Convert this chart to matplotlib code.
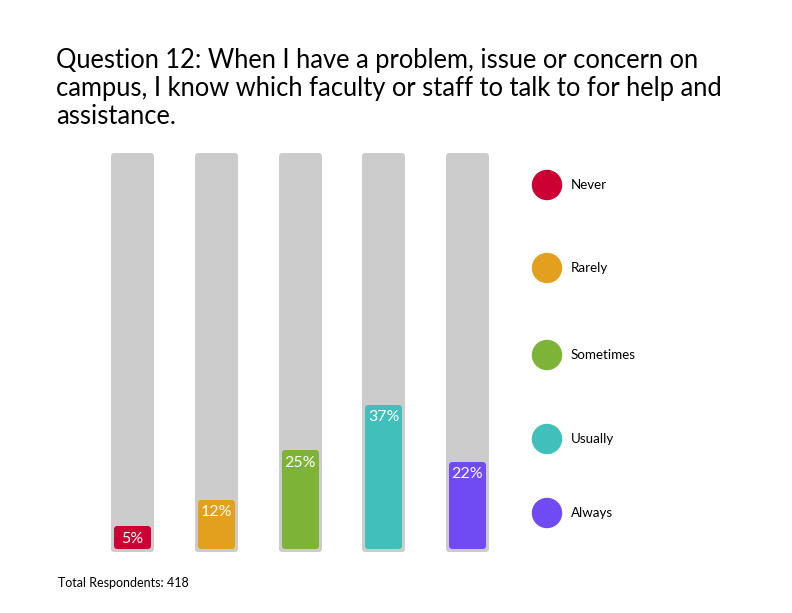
import matplotlib
matplotlib.use("Agg")
import matplotlib.pyplot as plt

# data
categories = ["Never", "Rarely", "Sometimes", "Usually", "Always"]
percents = [5, 12, 25, 37, 22]
colors = ["#CC0033", "#E3A01E", "#7DB336", "#40BFBB", "#704AF2"]
title = ("Question 12: When I have a problem, issue or concern on\n"
         "campus, I know which faculty or staff to talk to for help and\n"
         "assistance.")
footer = "Total Respondents: 418"

W, H = 792, 613
fig = plt.figure(figsize=(W / 100, H / 100), dpi=100)
plt.rcParams['font.family'] = ['Lato', 'DejaVu Sans']

# bars axes, positioned in pixels
px_per_unit_x = 83.75
px_per_pct = 3.8
left_px = 132.5 - 0.5 * px_per_unit_x
right_px = left_px + 5 * px_per_unit_x
zero_px = 549          # image y of colored bar bottom
top_px, bot_px = 150, 560
ax = fig.add_axes([left_px / W, 1 - bot_px / H, (right_px - left_px) / W, (bot_px - top_px) / H])
ax.set_xlim(-0.5, 4.5)
ax.set_ylim(-(bot_px - zero_px) / px_per_pct, (zero_px - top_px) / px_per_pct)
ax.axis('off')

x = list(range(len(categories)))
edge_px = 6
pad = edge_px / 2 / px_per_pct
lw = edge_px * 72 / 100

# gray tracks
g_bot = -3 / px_per_pct
g_top = (zero_px - 153) / px_per_pct
g_w = (43 - edge_px) / px_per_unit_x
ax.bar(x, g_top - g_bot - 2 * pad, bottom=g_bot + pad, width=g_w,
       color="#CCCCCC", edgecolor="#CCCCCC", linewidth=lw, joinstyle='round')

# colored bars
c_w = (37 - edge_px) / px_per_unit_x
heights = [v + 1 for v in percents]
bars = ax.bar(x, [h - 2 * pad for h in heights], bottom=pad, width=c_w,
              color=colors, edgecolor=colors, linewidth=lw, joinstyle='round')
for xi, h, v in zip(x, heights, percents):
    ax.annotate(f"{v}%", (xi, h), xytext=(0, -4), textcoords='offset points',
                ha='center', va='top', color='white', fontsize=11.5)

# title and footer
fig.text(56 / W, 1 - 48 / H, title, ha='left', va='top', fontsize=18.4,
         color='black', linespacing=1.15)
fig.text(58 / W, 1 - 583 / H, footer, ha='left', va='center', fontsize=9,
         color='black')

# legend
legend_y = [185, 268, 355, 439, 513]
for cat, col, ly in zip(categories, colors, legend_y):
    fig.patches.append(matplotlib.patches.Ellipse((547 / W, 1 - ly / H), 29 / W, 29 / H,
                                                  transform=fig.transFigure,
                                                  color=col))
    fig.text(571 / W, 1 - ly / H, cat, ha='left', va='center', fontsize=9.6,
             color='black')

fig.savefig("out.png", dpi=100, facecolor='white')
